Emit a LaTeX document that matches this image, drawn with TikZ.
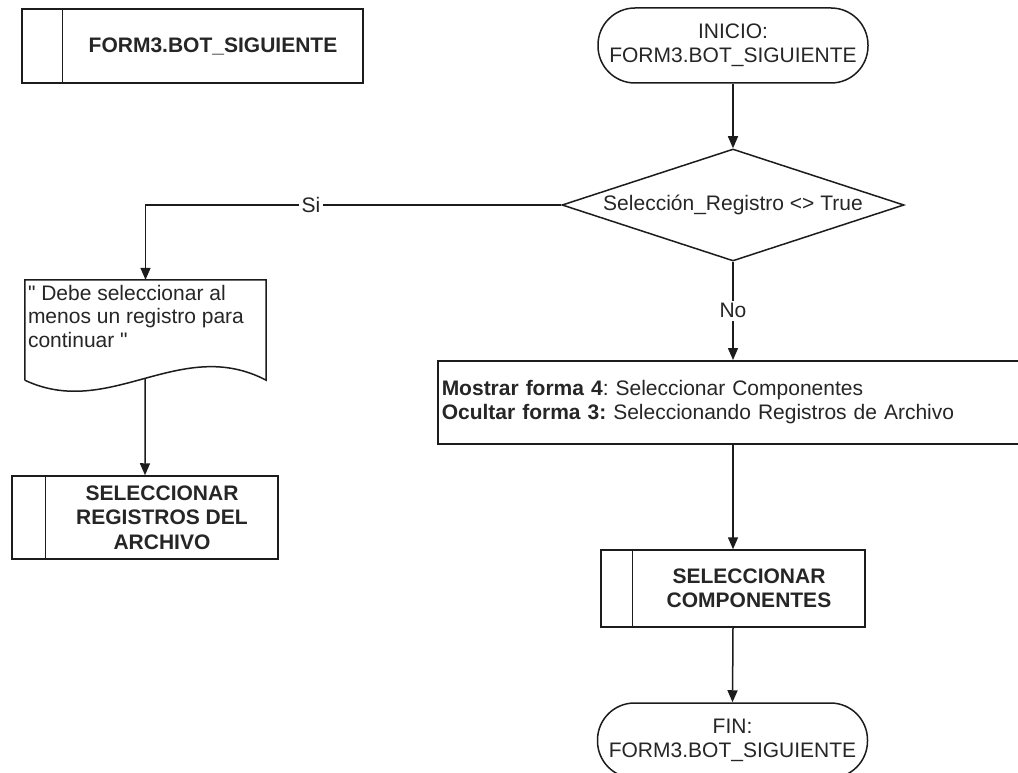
\documentclass[tikz,border=0pt]{standalone}
\usepackage{fontspec}
\setmainfont{Liberation Sans}
\usetikzlibrary{shapes.geometric,arrows.meta}

\definecolor{ink}{HTML}{1C1C1C}
\definecolor{txt}{HTML}{262626}

% text of a predefined-process box: a blank left compartment, then centred bold lines
\newcommand{\subboxtext}[3]{\hspace*{#1}\parbox[c]{#2}{\centering\bfseries #3}}

\tikzset{
  base/.style={draw=ink, line width=1.5pt, text=txt, inner sep=0pt,
               font=\frenchspacing\fontsize{21}{24.5}\selectfont},
  terminal/.style={base, rectangle, rounded corners=37pt, minimum width=270pt,
                   minimum height=75pt, align=center},
  decision/.style={base, diamond, aspect=3.05, minimum width=342pt, minimum height=112pt},
  subproc/.style={base, rectangle, minimum height=#1},
  procbox/.style={base, rectangle, inner xsep=4pt, minimum height=83pt,
                  text width=612pt, align=left},
  docbox/.style={rectangle, inner sep=0pt, minimum width=241pt, minimum height=100pt},
  doctxt/.style={text=txt, inner sep=0pt, align=left,
                 font=\frenchspacing\fontsize{21}{23.5}\selectfont},
  link/.style={draw=ink, line width=1.5pt},
  flow/.style={link, -{Triangle[length=12pt,width=10pt]}},
  lbl/.style={fill=white, text=txt, inner sep=3pt, font=\fontsize{21}{24}\selectfont},
}

\begin{document}
\begin{tikzpicture}[x=1pt, y=-1pt]
  \useasboundingbox (0,0) rectangle (1018,773);
  \clip (0,0) rectangle (1018,773);
  \fill[white] (0,0) rectangle (1018,773);

  % routine title
  \node[subproc=74pt, minimum width=341pt] (title) at (192.5,46)
       {\subboxtext{41pt}{300pt}{FORM3.BOT\_SIGUIENTE}};
  \draw[link] ([xshift=41pt]title.north west) -- ([xshift=41pt]title.south west);

  % main flow
  \node[terminal] (start) at (733,45.5) {INICIO:\\FORM3.BOT\_SIGUIENTE};
  \node[decision] (dec) at (733,205) {Selección\_Registro <> True};
  \node[procbox, anchor=north west] (proc) at (437,360)
       {\textbf{Mostrar forma 4}: Seleccionar Componentes\\
        \textbf{Ocultar forma 3:} Seleccionando Registros de Archivo};
  \node[subproc=77pt, minimum width=264pt] (rsub) at (733,588.5)
       {\subboxtext{32pt}{232pt}{SELECCIONAR\\COMPONENTES}};
  \draw[link] ([xshift=32pt]rsub.north west) -- ([xshift=32pt]rsub.south west);
  \node[terminal] (fin) at (732.5,740.5) {FIN:\\FORM3.BOT\_SIGUIENTE};

  % "Si" branch: message document and subprocess
  \node[docbox] (doc) at (145.5,330) {};
  \draw[link] (doc.south west) -- (doc.north west) -- (doc.north east) -- (doc.south east)
    .. controls ([shift={(-86,-45)}]doc.south east) and ([shift={(85,40)}]doc.south west)
    .. (doc.south west)
    coordinate[pos=0.5] (docwave);
  \node[doctxt, anchor=north west] (doct) at ([shift={(3,5)}]doc.north west)
       {\textquotedbl{} Debe seleccionar al\\menos un registro para\\continuar \textquotedbl};
  \node[subproc=83pt, minimum width=266pt] (lsub) at (145,517.5)
       {\subboxtext{34pt}{232pt}{SELECCIONAR\\REGISTROS DEL\\ARCHIVO}};
  \draw[link] ([xshift=34pt]lsub.north west) -- ([xshift=34pt]lsub.south west);

  % connectors
  \draw[flow] (start) -- (dec);
  \draw[flow] (dec.west) -| node[lbl, pos=0.301] {Si} (doc.north);
  \draw[flow] (dec.south) -- node[lbl, pos=0.5] {No} (dec.south |- proc.north);
  \draw[flow] (rsub.north |- proc.south) -- (rsub.north);
  \draw[flow] (rsub.south) -- (fin.north);
  \draw[flow] (docwave) -- (lsub.north);
\end{tikzpicture}
\end{document}
